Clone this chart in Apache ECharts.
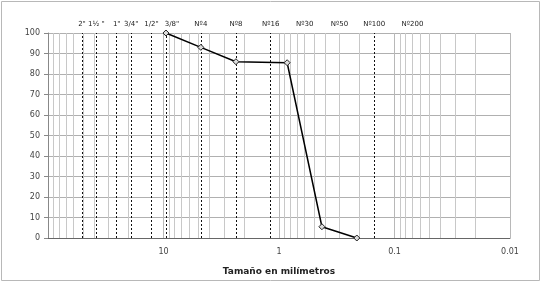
<!DOCTYPE html>
<html>
<head>
<meta charset="utf-8">
<script src="https://cdn.jsdelivr.net/npm/echarts@6/dist/echarts.min.js"></script>
<style>
  html, body { margin: 0; padding: 0; background: #fff; }
  #chart { width: 545px; height: 282px; }
</style>
</head>
<body>
<div id="chart"></div>
<script>
// grain size curve (mm vs % passing)
const sizes = [9.525, 4.75, 2.36, 0.85, 0.425, 0.212];
const passing = [100, 93, 86, 85.5, 5.5, 0];

// sieve openings, labels and which ones get a dashed line
const sieveSizes = [50.8, 38.1, 25.4, 19.05, 12.7, 9.525, 4.75, 2.36, 1.18, 0.6, 0.3, 0.15, 0.075];
const sieveLabels = ['2"', '1½ "', '1"', '3/4"', '1/2"', '3/8"', 'Nº4', 'Nº8', 'Nº16', 'Nº30', 'Nº50', 'Nº100', 'Nº200'];
const sieveDashed = [true, true, true, true, true, true, true, true, true, false, false, true, false];

const decades = [0.01, 0.1, 1, 10];
const yTicks = [0, 10, 20, 30, 40, 50, 60, 70, 80, 90, 100];

const minorLines = [];
decades.forEach((d) => {
  for (let k = 2; k <= 9; k++) {
    minorLines.push({ xAxis: +(k * d).toPrecision(3) });
  }
});

const fontFamily = 'DejaVu Sans';
const myChart = echarts.init(document.getElementById('chart'));

const option = {
  animation: false,
  graphic: [
    {
      type: 'rect',
      shape: { x: 1.5, y: 1.5, width: 538, height: 279 },
      style: { fill: 'none', stroke: '#b8b8b8', lineWidth: 1 },
      silent: true,
    },
  ],
  grid: { left: 48, right: 35, top: 33, bottom: 44 },
  xAxis: {
    type: 'log',
    logBase: 10,
    min: 0.01,
    max: 100,
    inverse: true,
    name: 'Tamaño en milímetros',
    nameLocation: 'middle',
    nameGap: 29,
    nameTextStyle: { fontFamily, fontSize: 9, fontWeight: 'bold', color: '#222' },
    axisLine: { lineStyle: { color: '#666', width: 1 } },
    axisTick: { show: false },
    axisLabel: {
      fontFamily,
      fontSize: 8,
      color: '#444',
      margin: 10,
      showMaxLabel: false,
      formatter: (v) => String(+v.toPrecision(3)),
    },
    splitLine: { show: true, lineStyle: { color: '#b8b8b8', width: 1 } },
  },
  yAxis: {
    type: 'value',
    min: 0,
    max: 100,
    interval: 10,
    axisLine: { show: true, lineStyle: { color: '#888' } },
    axisTick: { show: true, length: 4, lineStyle: { color: '#888' } },
    axisLabel: {
      fontFamily,
      fontSize: 8,
      color: '#444',
      margin: 8,
      customValues: yTicks,
    },
    splitLine: { show: true, lineStyle: { color: '#b0b0b0', width: 1 } },
  },
  series: [
    {
      name: 'grid',
      type: 'line',
      data: [],
      z: 1,
      silent: true,
      markLine: {
        silent: true,
        symbol: ['none', 'none'],
        label: { show: false },
        lineStyle: { type: 'solid', color: '#c8c8c8', width: 1 },
        data: minorLines,
      },
    },
    {
      name: 'sieves',
      type: 'line',
      data: [],
      z: 2,
      silent: true,
      markLine: {
        silent: true,
        symbol: ['none', 'none'],
        label: {
          show: true,
          position: 'end',
          distance: 5,
          fontFamily,
          fontSize: 7,
          color: '#222',
          formatter: (p) => p.name,
        },
        lineStyle: { type: [2, 2], color: '#111', width: 1 },
        data: sieveSizes.map((v, i) => ({
          name: sieveLabels[i],
          xAxis: v,
          lineStyle: sieveDashed[i] ? {} : { color: 'rgba(0,0,0,0)' },
          label: sieveLabels[i] === '3/8"' ? { offset: [6, 0] } : {},
        })),
      },
    },
    {
      name: 'Curva',
      type: 'line',
      z: 5,
      data: sizes.map((s, i) => [s, passing[i]]),
      symbol: 'diamond',
      symbolSize: 6,
      itemStyle: { color: '#ddd', borderColor: '#222', borderWidth: 1 },
      lineStyle: { color: '#000', width: 1.5 },
    },
  ],
};
myChart.setOption(option);
</script>
</body>
</html>
